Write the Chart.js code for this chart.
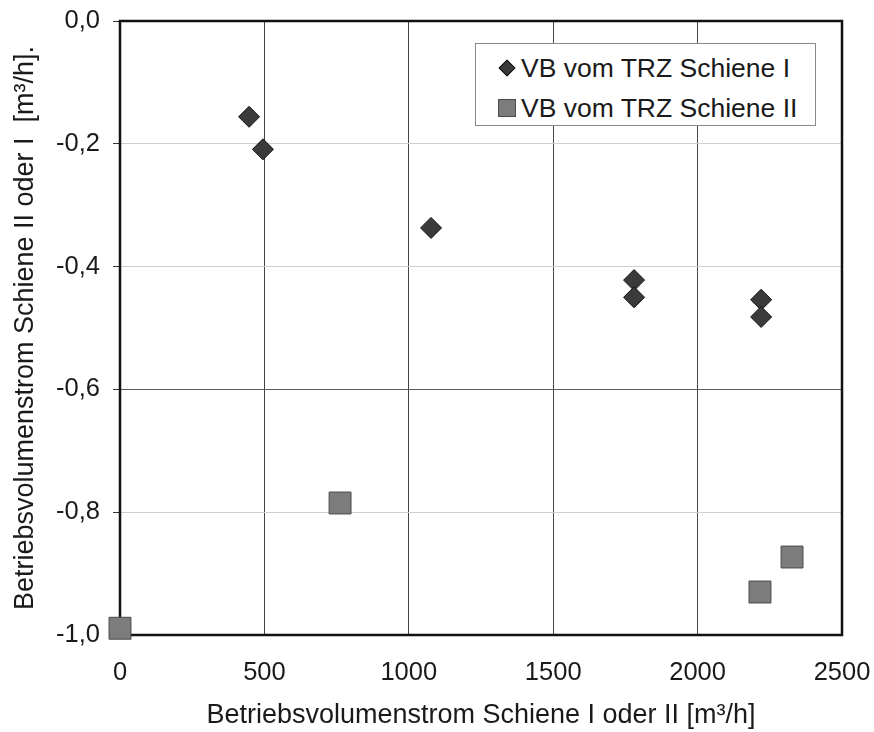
<!DOCTYPE html>
<html>
<head>
<meta charset="utf-8">
<script src="https://cdn.jsdelivr.net/npm/chart.js@4.4.1/dist/chart.umd.min.js"></script>
<style>
  html, body { margin: 0; padding: 0; background: #fff; }
  #wrap { position: relative; width: 874px; height: 732px; }
  #legend {
    position: absolute; left: 475px; top: 43px; width: 339px; height: 81px;
    border: 1px solid #8a8a8a; background: #fff;
    font-family: "Liberation Sans", Arial, sans-serif; font-size: 26.5px; color: #1a1a1a;
  }
  .row { position: absolute; left: 0; height: 30px; line-height: 30px; white-space: pre; }
  .mark { position: absolute; box-sizing: border-box; }
  .txt { position: absolute; left: 45px; top: 0; }
</style>
</head>
<body>
<div id="wrap">
  <canvas id="myChart" width="874" height="732"></canvas>
  <div id="legend"></div>
</div>
<script>
// Messwerte
const labelsSeries = ['VB vom TRZ Schiene I', 'VB vom TRZ Schiene II'];
const xSchiene1 = [447, 495, 1077, 1780, 1780, 2220, 2220];
const ySchiene1 = [-0.156, -0.209, -0.337, -0.422, -0.450, -0.454, -0.482];
const xSchiene2 = [0, 762, 2216, 2327];
const ySchiene2 = [-0.989, -0.785, -0.930, -0.873];
const xTicks = [0, 500, 1000, 1500, 2000, 2500];
const yTicks = [0, -0.2, -0.4, -0.6, -0.8, -1.0];

const fontFam = '"Liberation Sans", Arial, sans-serif';

const toPoints = (xs, ys) => xs.map((x, i) => ({ x: x, y: ys[i] }));

// Rahmen um die Zeichenfläche
const frame = {
  id: 'frame',
  beforeDatasetsDraw(chart) {
    const { ctx, chartArea: a } = chart;
    ctx.save();
    ctx.strokeStyle = '#111';
    ctx.lineWidth = 2.5;
    ctx.strokeRect(a.left, a.top, a.right - a.left, a.bottom - a.top);
    ctx.restore();
  }
};

const ctx = document.getElementById('myChart');
const chart = new Chart(ctx, {
  type: 'scatter',
  data: {
    datasets: [
      {
        label: labelsSeries[0],
        data: toPoints(xSchiene1, ySchiene1),
        pointStyle: 'rectRot',
        pointRadius: 10.5,
        backgroundColor: '#3b3b3b',
        borderColor: '#111',
        borderWidth: 1,
        clip: false
      },
      {
        label: labelsSeries[1],
        data: toPoints(xSchiene2, ySchiene2),
        pointStyle: 'rect',
        pointRadius: 15.5,
        backgroundColor: '#7c7c7c',
        borderColor: '#4a4a4a',
        borderWidth: 1,
        clip: false
      }
    ]
  },
  options: {
    responsive: false,
    animation: false,
    layout: { padding: { top: 21, right: 32, left: 0, bottom: 0 } },
    plugins: {
      legend: { display: false },
      tooltip: { enabled: false }
    },
    scales: {
      x: {
        type: 'linear',
        min: 0, max: 2500,
        afterBuildTicks: (s) => { s.ticks = xTicks.map(v => ({ value: v })); },
        afterFit: (s) => { s.height = 97; s.paddingLeft = 0; s.paddingRight = 0; },
        border: { display: false },
        grid: { color: '#444', lineWidth: 1, drawTicks: false },
        ticks: {
          color: '#1a1a1a', padding: 23,
          font: { family: fontFam, size: 25.5 },
          callback: (v) => String(v)
        },
        title: {
          display: true,
          text: 'Betriebsvolumenstrom Schiene I oder II [m³/h]',
          color: '#1a1a1a',
          font: { family: fontFam, size: 27 },
          padding: { top: 0, bottom: 0 }
        }
      },
      y: {
        type: 'linear',
        min: -1, max: 0,
        afterBuildTicks: (s) => { s.ticks = yTicks.map(v => ({ value: v })); },
        afterFit: (s) => { s.width = 120; s.paddingTop = 0; s.paddingBottom = 0; },
        border: { display: false },
        grid: {
          color: (c) => Math.abs(c.tick.value + 0.6) < 1e-6 ? '#5a5a5a' : '#cfcfcf',
          lineWidth: 1,
          drawTicks: true,
          tickLength: 7,
          tickColor: '#333'
        },
        ticks: {
          color: '#1a1a1a', padding: 13,
          font: { family: fontFam, size: 25.5 },
          callback: (v) => v.toFixed(1).replace('.', ',').replace('-0,0', '0,0')
        },
        title: {
          display: true,
          text: 'Betriebsvolumenstrom Schiene II oder I  [m³/h].',
          color: '#1a1a1a',
          font: { family: fontFam, size: 27 },
          padding: { top: 9, bottom: 0 }
        }
      }
    }
  },
  plugins: [frame]
});

// Legende als HTML, aus den Datensätzen erzeugt
const legend = document.getElementById('legend');
chart.data.datasets.forEach((ds, i) => {
  const row = document.createElement('div');
  row.className = 'row';
  row.style.top = (9 + i * 40) + 'px';
  const mark = document.createElement('div');
  mark.className = 'mark';
  if (ds.pointStyle === 'rectRot') {
    Object.assign(mark.style, { left: '25px', top: '9px', width: '12px', height: '12px',
      background: ds.backgroundColor, border: '1px solid ' + ds.borderColor, transform: 'rotate(45deg)' });
  } else {
    Object.assign(mark.style, { left: '22px', top: '6px', width: '18px', height: '18px',
      background: ds.backgroundColor, border: '1px solid ' + ds.borderColor });
  }
  const txt = document.createElement('span');
  txt.className = 'txt';
  txt.textContent = ds.label;
  row.appendChild(mark);
  row.appendChild(txt);
  legend.appendChild(row);
});
</script>
</body>
</html>
